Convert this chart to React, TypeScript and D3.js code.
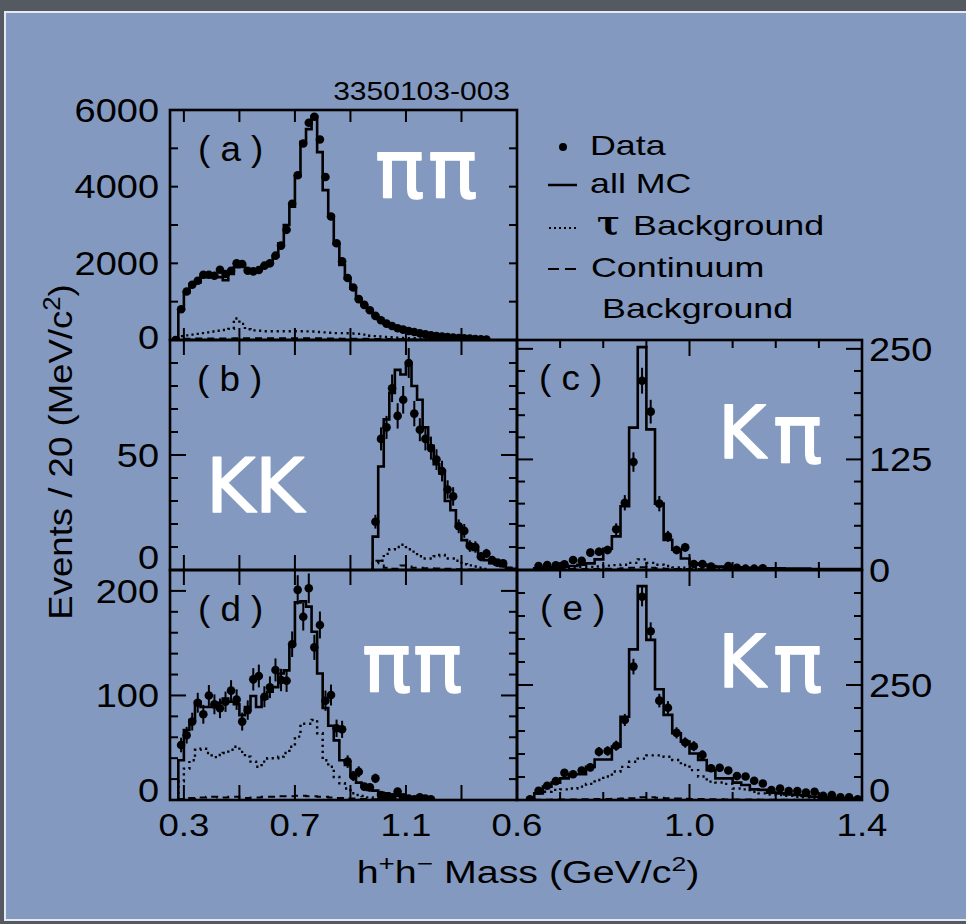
import React from "react";
import * as d3 from "d3";

const W = 966;
const H = 924;
const BIN = 0.02;
const FONT = "'Liberation Sans', Arial, Helvetica, sans-serif";
const HAND = "'DejaVu Sans', sans-serif";

// ---------- Panel (a): pi pi  (bin centres from 0.27 GeV, 20 MeV bins)
const aStart = 0.27;
const aData = [0, 804, 1265, 1441, 1546, 1703, 1703, 1677, 1834, 1720, 1808, 2000, 1983, 1808, 1790, 1826, 1939, 2000, 2200, 2463, 2874, 3555, 4297, 5127, 5667, 5824, 5232, 4252, 3223, 2524, 2052, 1616, 1370, 1066, 917, 778, 629, 516, 427, 367, 306, 270, 236, 210, 175, 149, 122, 105, 87, 79, 61, 52, 44, 35, 26, 17, 10];
const aMC = [0, 800, 1240, 1460, 1500, 1640, 1660, 1640, 1640, 1560, 1720, 1900, 1960, 1840, 1800, 1840, 1920, 2020, 2180, 2520, 3000, 3480, 4270, 5170, 5500, 5840, 4900, 3910, 3240, 2500, 1960, 1600, 1340, 1080, 900, 770, 640, 520, 430, 360, 300, 265, 230, 200, 170, 145, 120, 100, 85, 75, 60, 50, 42, 34, 25, 17, 10];
const aTau = [0, 100, 120, 140, 160, 180, 200, 220, 240, 260, 290, 560, 420, 280, 250, 240, 230, 230, 230, 230, 230, 230, 230, 230, 225, 220, 210, 200, 190, 180, 180, 175, 170, 160, 140, 110, 100, 90, 80, 70, 60, 55, 50, 45, 40, 35, 30, 25, 20, 16, 12, 10, 8, 6, 5, 4, 3];
const aCont = [0, 20, 30, 35, 40, 40, 40, 40, 40, 40, 40, 45, 45, 45, 45, 45, 45, 45, 45, 45, 45, 45, 45, 45, 45, 45, 45, 40, 40, 40, 35, 35, 35, 30, 30, 30, 25, 25, 25, 20, 20, 20, 15, 15, 15, 12, 12, 10, 10, 8, 8, 6, 6, 5, 5, 4, 4];

// ---------- Panel (b): K K  (from 0.99)
const bStart = 0.99;
const bData = [21, 57, 62, 79, 67, 74, 90, 68, 61, 57, 53, 48, 43, 35, 32, 19, 17, 10.4, 10, 5.8, 7.2, 4.3, 3.2, 2.9];
const bErr = [3, 5, 5, 6, 5.5, 6, 6.5, 5.5, 5, 5, 5, 4.5, 4.5, 4, 4, 3, 3, 2.5, 2.5, 2, 2, 1.5, 1.5, 1.5];
const bMC = [14.5, 45, 65.5, 77, 87, 85, 90, 80, 74, 62, 54, 46, 42, 30, 26, 19, 13, 11, 8.7, 5.8, 4.3, 3, 2.3, 1.7, 1, 0.5];
const bTau = [3, 4, 7, 9, 10, 11, 9, 8, 6, 5, 5, 6, 6.5, 5, 5, 4, 2.5, 2, 1.5, 1, 0.5];
const bCont = [4, 4, 1, 0.5, 0.5, 2, 1.5, 1, 1, 0.8, 0.8, 0.6, 0.5, 0.5, 0.4, 0.3, 0.3, 0.2, 0.2, 0.1];

// ---------- Panel (c): K pi  (from 0.65)
const cStart = 0.65;
const cData = [4.5, 5.6, 5.3, 6.4, 11.3, 10.5, 19.6, 20.7, 22.6, 46, 76, 122, 214, 179, 75, 38, 22.6, 25.6, 6.8, 6.8, 3.8, null, 4.5, 2.6, 1.5, 1.5, 1.9];
const cErr = [2, 2.4, 2.3, 2.5, 3.4, 3.2, 4.4, 4.5, 4.8, 6.8, 8.7, 11, 14.6, 13.4, 8.7, 6.2, 4.8, 5, 2.6, 2.6, 2, 0, 2.1, 1.6, 1.2, 1.2, 1.4];
const cMC = [1.9, 3, 3, 3.8, 4.5, 6, 7.5, 12, 24, 38, 72, 161, 252, 159, 75, 34, 23, 13, 7.5, 6, 4.5, 3.8, 3, 3, 2.5, 2.5, 2, 2, 2, 1.5, 1.5, 1.5, 1, 1, 1, 1, 1, 1];
const cTau = [1, 1.5, 2, 2.5, 3, 3.5, 3.5, 4, 5, 5.5, 6, 8, 12, 8, 6, 4.5, 3, 2.5, 2, 1.5, 1.2, 1, 1, 1, 1, 0.8, 0.8, 0.8, 0.6, 0.6, 0.5, 0.5, 0.5, 0.4, 0.4, 0.3, 0.3, 0.3];
const cCont = [0.5, 0.5, 0.8, 0.8, 1, 1, 1, 1.2, 1.5, 1.5, 2, 2.5, 3, 2.5, 2, 1.5, 1.2, 1, 1, 0.8, 0.8, 0.6, 0.6, 0.5, 0.5, 0.4, 0.4, 0.3, 0.3, 0.3, 0.2, 0.2, 0.2, 0.2, 0.1, 0.1, 0.1, 0.1];

// ---------- Panel (d): pi pi  (from 0.29)
const dStart = 0.29;
const dData = [52.6, 62, 75, 93, 82, 100, 91.5, 87.7, 94, 104.6, 96, 75, 86, 115.4, 118.6, 98.8, 107.8, 124.4, 114.8, 114.1, 149, 201, 175.3, 202.5, 146, 167.4, 95, 100.4, 68.6, 67.6, 36.7, 23, 27, 12.8, 12.1, 20.7, 4.8, 3.2, 2.5, 8, 2.5, 1.5, 0.6, 2.5, 1.5, 0.6];
const dErr = [7, 8, 8.5, 9.5, 9, 10, 9.5, 9.4, 9.7, 10, 9.8, 8.6, 9.3, 10.7, 10.9, 10, 10.4, 11, 10.7, 10.7, 12.2, 14, 13.2, 14.2, 12, 12.9, 9.7, 10, 8.3, 8.2, 6, 4.8, 5.2, 3.6, 3.5, 4.5, 2.2, 1.8, 1.6, 2.8, 1.6, 1.2, 0.8, 1.6, 1.2, 0.8];
const dMC = [38, 67, 76.5, 94, 89, 89, 89, 93, 97, 94, 91.6, 81, 89, 99.5, 89, 97, 103.6, 108, 121, 124, 148, 189, 190, 185, 161, 121, 88, 71, 57, 38, 33.5, 24, 16.6, 12.8, 9.6, 9, 7, 6.4, 4.8, 3.8, 3, 2.5, 2, 1.5, 1, 0.5];
const dTau = [18, 30, 38, 48, 49, 45, 41, 43, 45, 48, 51, 46, 41.5, 36.7, 31.8, 36.7, 40, 40, 41.5, 45, 51, 60.6, 73, 73, 76.5, 63.8, 38, 31.8, 22, 16, 11, 6.4, 4.8, 3.8, 2.5, 2, 1.5, 1, 0.8, 0.5, 0.3, 0.2];
const dCont = [1, 2, 2, 2.5, 2.5, 3, 3, 2.5, 2.5, 3, 3, 2, 2, 2.5, 2.5, 3, 3, 3, 3.5, 3.5, 3.5, 4, 4, 3.5, 3.5, 3, 3, 2.5, 2, 2, 1.5, 1.5, 1, 1, 1, 0.8, 0.8, 0.5, 0.5, 0.5, 0.4, 0.3, 0.3, 0.2, 0.2, 0.1];

// ---------- Panel (e): K pi  (data from 0.63, MC from 0.65)
const eStart = 0.63;
const eData = [1.5, 20, 31, 41, 59, 56, 64, 71, 105, 106.5, 118, 174, 290, 442, 367, 216, 200.7, 146, 125, 117, 98, 69, 70, 64, 52, 51, 42, 36, 21.7, 25, 19.6, 19.6, 16, 18, 9.4, 10.9, 5.8, 5.8, 1.5];
const eErr = [1.2, 4.5, 5.6, 6.4, 7.7, 7.5, 8, 8.4, 10.2, 10.3, 10.9, 13.2, 17, 21, 19.2, 14.7, 14.2, 12.1, 11.2, 10.8, 9.9, 8.3, 8.4, 8, 7.2, 7.1, 6.5, 6, 4.7, 5, 4.4, 4.4, 4, 4.2, 3.1, 3.3, 2.4, 2.4, 1.2];
const eMCStart = 0.65;
const eMC = [14.5, 29, 37.7, 47, 56, 56, 72, 88, 88, 116, 181, 327.5, 465, 348, 240.6, 185, 145, 127, 101, 87, 65, 47, 47, 37.7, 32.6, 23, 22, 16, 14.5, 12, 11, 9, 7, 6, 5, 3.6, 3, 1.5];
const eTau = [14.5, 18, 22, 23, 25, 29, 35, 43.5, 51, 62, 72, 83, 90, 97, 97, 94, 87, 76, 65, 51, 40, 38, 35, 25, 23, 18, 14.5, 12, 11, 9, 7, 6, 5, 3.6, 3, 2, 1.5, 1];
const eCont = [0.5, 0.5, 1, 1, 1, 1.5, 1.5, 2, 2, 2.5, 3, 4, 6, 6, 5, 4, 3, 2.5, 2, 2, 1.5, 1.5, 1, 1, 1, 1, 0.8, 0.8, 0.6, 0.6, 0.5, 0.5, 0.4, 0.4, 0.3, 0.3, 0.2, 0.2];

// ---------- ticks and tick labels
const leftMassTicks = [0.3, 0.5, 0.7, 0.9, 1.1, 1.3];
const rightMassMinor = [0.7, 0.8, 0.9, 1.1, 1.2, 1.3];
const rightMassMajor = [1.0];
const leftMassLabels = [0.3, 0.7, 1.1];
const rightMassLabels = [0.6, 1.0, 1.4];
const aYTicks = [1000, 2000, 3000, 4000, 5000];
const bYMinor = [10, 20, 30, 40, 60, 70, 80, 90];
const bYMajor = [50];
const cYMinor = [25, 50, 75, 100, 150, 175, 200, 225];
const cYMajor = [125, 250];
const dYMinor = [20, 40, 60, 80, 120, 140, 160, 180];
const dYMajor = [100, 200];
const eYMinor = [50, 100, 150, 200, 300, 350, 400, 450];
const eYMajor = [250];
const aYLabels = [0, 2000, 4000, 6000];
const bYLabels = [0, 50];
const cYLabels = [0, 125, 250];
const dYLabels = [0, 100, 200];
const eYLabels = [0, 250];

const xLeft = d3.scaleLinear().domain([0.25, 1.5]).range([170, 517]);
const xRight = d3.scaleLinear().domain([0.6, 1.4]).range([517, 862]);

type Num = number | null;
interface PanelDef {
  key: string;
  letter: string;
  x0: number; x1: number; y0: number; y1: number;
  x: d3.ScaleLinear<number, number>;
  yMax: number;
  yMinor: number[]; yMajor: number[];
  xMinor: number[]; xMajor: number[];
  xMinorLen: number; xMajorLen: number;
  yLabels: number[]; labelSide: "left" | "right"; zeroShift: number;
  xLabels: number[] | null;
  data: { start: number; values: Num[]; err: number[] | null };
  mc: { start: number; values: number[] };
  tau: { start: number; values: number[] };
  cont: { start: number; values: number[] };
  letterPos: [number, number];
}

const panels: PanelDef[] = [
  {
    key: "a", letter: "( a )", x0: 170, x1: 517, y0: 110, y1: 340, x: xLeft, yMax: 6000,
    yMinor: aYTicks, yMajor: [], xMinor: leftMassTicks, xMajor: [], xMinorLen: 12, xMajorLen: 12,
    yLabels: aYLabels, labelSide: "left", zeroShift: -3, xLabels: null,
    data: { start: aStart, values: aData, err: null },
    mc: { start: aStart, values: aMC }, tau: { start: aStart, values: aTau }, cont: { start: aStart, values: aCont },
    letterPos: [198, 161],
  },
  {
    key: "b", letter: "( b )", x0: 170, x1: 517, y0: 340, y1: 570, x: xLeft, yMax: 100,
    yMinor: bYMinor, yMajor: bYMajor, xMinor: leftMassTicks, xMajor: [], xMinorLen: 15, xMajorLen: 15,
    yLabels: bYLabels, labelSide: "left", zeroShift: -13, xLabels: null,
    data: { start: bStart, values: bData, err: bErr },
    mc: { start: bStart, values: bMC }, tau: { start: bStart, values: bTau }, cont: { start: bStart, values: bCont },
    letterPos: [197, 391],
  },
  {
    key: "c", letter: "( c )", x0: 517, x1: 862, y0: 340, y1: 570, x: xRight, yMax: 260,
    yMinor: cYMinor, yMajor: cYMajor, xMinor: rightMassMinor, xMajor: rightMassMajor, xMinorLen: 8, xMajorLen: 16,
    yLabels: cYLabels, labelSide: "right", zeroShift: 0, xLabels: null,
    data: { start: cStart, values: cData, err: cErr },
    mc: { start: cStart, values: cMC }, tau: { start: cStart, values: cTau }, cont: { start: cStart, values: cCont },
    letterPos: [539, 390],
  },
  {
    key: "d", letter: "( d )", x0: 170, x1: 517, y0: 570, y1: 800, x: xLeft, yMax: 220,
    yMinor: dYMinor, yMajor: dYMajor, xMinor: leftMassTicks, xMajor: [], xMinorLen: 15, xMajorLen: 15,
    yLabels: dYLabels, labelSide: "left", zeroShift: -10, xLabels: leftMassLabels,
    data: { start: dStart, values: dData, err: dErr },
    mc: { start: dStart, values: dMC }, tau: { start: dStart, values: dTau }, cont: { start: dStart, values: dCont },
    letterPos: [198, 621],
  },
  {
    key: "e", letter: "( e )", x0: 517, x1: 862, y0: 570, y1: 800, x: xRight, yMax: 500,
    yMinor: eYMinor, yMajor: eYMajor, xMinor: rightMassMinor, xMajor: rightMassMajor, xMinorLen: 8, xMajorLen: 16,
    yLabels: eYLabels, labelSide: "right", zeroShift: -10, xLabels: rightMassLabels,
    data: { start: eStart, values: eData, err: eErr },
    mc: { start: eMCStart, values: eMC }, tau: { start: eMCStart, values: eTau }, cont: { start: eMCStart, values: eCont },
    letterPos: [540, 620],
  },
];

function stepPath(x: d3.ScaleLinear<number, number>, y: d3.ScaleLinear<number, number>, start: number, values: number[]) {
  const pts: [number, number][] = [];
  const lo0 = start - BIN / 2;
  pts.push([x(lo0), y(0)]);
  values.forEach((v, i) => pts.push([x(lo0 + i * BIN), y(v)]));
  pts.push([x(lo0 + values.length * BIN), y(values[values.length - 1])]);
  return d3.line().curve(d3.curveStepAfter)(pts) || "";
}

function Txt(props: {
  x: number; y: number; size: number; sx?: number; sy?: number; rot?: number;
  anchor?: string; family?: string; weight?: string | number; fill?: string;
  stroke?: string; strokeWidth?: number; children: React.ReactNode;
}) {
  const { x, y, size, sx = 1, sy = 1, rot = 0, anchor = "start", family = FONT, weight = "normal", fill = "#000" } = props;
  return (
    <text
      transform={`translate(${x},${y})${rot ? ` rotate(${rot})` : ""} scale(${sx},${sy})`}
      textAnchor={anchor}
      fontSize={size}
      fontFamily={family}
      fontWeight={weight}
      fill={fill}
      stroke={props.stroke}
      strokeWidth={props.strokeWidth}
      strokeLinejoin="round"
    >
      {props.children}
    </text>
  );
}

const TICK_SIZE = 33;
const TICK_SX = 1.15;

function Panel({ p }: { p: PanelDef }) {
  const x = p.x;
  const y = d3.scaleLinear().domain([0, p.yMax]).range([p.y1, p.y0]);
  const clipId = `clip-${p.key}`;
  const fmtMass = d3.format(".1f");
  const tickLines: JSX.Element[] = [];
  const addY = (vals: number[], len: number, tag: string) =>
    vals.forEach((v, i) => {
      const yy = y(v);
      tickLines.push(<line key={`yl${tag}${i}`} x1={p.x0} x2={p.x0 + len} y1={yy} y2={yy} />);
      tickLines.push(<line key={`yr${tag}${i}`} x1={p.x1 - len} x2={p.x1} y1={yy} y2={yy} />);
    });
  const addX = (vals: number[], len: number, tag: string) =>
    vals.forEach((v, i) => {
      const xx = x(v);
      tickLines.push(<line key={`xb${tag}${i}`} x1={xx} x2={xx} y1={p.y1} y2={p.y1 - len} />);
      tickLines.push(<line key={`xt${tag}${i}`} x1={xx} x2={xx} y1={p.y0} y2={p.y0 + len} />);
    });
  addY(p.yMinor, 8, "m");
  addY(p.yMajor, 16, "M");
  addX(p.xMinor, p.xMinorLen, "m");
  addX(p.xMajor, p.xMajorLen, "M");

  return (
    <g>
      <defs>
        <clipPath id={clipId}>
          <rect x={p.x0} y={p.y0} width={p.x1 - p.x0} height={p.y1 - p.y0} />
        </clipPath>
      </defs>
      <g clipPath={`url(#${clipId})`}>
        <path d={stepPath(x, y, p.cont.start, p.cont.values)} fill="none" stroke="#000" strokeWidth={2} strokeDasharray="7 5" />
        <path d={stepPath(x, y, p.tau.start, p.tau.values)} fill="none" stroke="#000" strokeWidth={2.4} strokeDasharray="2.2 3.8" />
        <path d={stepPath(x, y, p.mc.start, p.mc.values)} fill="none" stroke="#000" strokeWidth={2.6} />
        {p.data.values.map((v, i) => {
          if (v === null) return null;
          const cx = x(p.data.start + i * BIN);
          const e = p.data.err ? p.data.err[i] : 0;
          return (
            <g key={i}>
              {e > 0 && <line x1={cx} x2={cx} y1={y(Math.max(0, v - e))} y2={y(v + e)} stroke="#000" strokeWidth={2} />}
              <circle cx={cx} cy={y(v)} r={4.3} fill="#000" />
            </g>
          );
        })}
      </g>
      <g stroke="#000" strokeWidth={2}>{tickLines}</g>
      <rect x={p.x0} y={p.y0} width={p.x1 - p.x0} height={p.y1 - p.y0} fill="none" stroke="#000" strokeWidth={2.6} />
      {p.yLabels.map((v) => {
        const yc = y(v) + (v === 0 ? p.zeroShift : 0);
        const base = yc + 0.358 * TICK_SIZE;
        return p.labelSide === "left" ? (
          <Txt key={`lab${v}`} x={159} y={base} size={TICK_SIZE} sx={TICK_SX} anchor="end">{String(v)}</Txt>
        ) : (
          <Txt key={`lab${v}`} x={869} y={base} size={TICK_SIZE} sx={TICK_SX} anchor="start">{String(v)}</Txt>
        );
      })}
      {p.xLabels &&
        p.xLabels.map((v) => (
          <Txt key={`xl${v}`} x={x(v)} y={836} size={31} sx={1.18} anchor="middle">{fmtMass(v)}</Txt>
        ))}
      <Txt x={p.letterPos[0]} y={p.letterPos[1]} size={35} sx={1.05}>{p.letter}</Txt>
    </g>
  );
}

const whiteLabels: { text: string; x: number; y: number; size: number }[] = [
  { text: "π", x: 375, y: 198, size: 82 },
  { text: "π", x: 428, y: 198, size: 82 },
  { text: "K", x: 206, y: 512, size: 75 },
  { text: "K", x: 255, y: 512, size: 75 },
  { text: "K", x: 718, y: 458, size: 73 },
  { text: "π", x: 773, y: 463, size: 82 },
  { text: "π", x: 362, y: 692, size: 82 },
  { text: "π", x: 413, y: 692, size: 82 },
  { text: "K", x: 718, y: 687, size: 73 },
  { text: "π", x: 773, y: 692, size: 82 },
];

export default function App() {
  return (
    <svg width={W} height={H} viewBox={`0 0 ${W} ${H}`} style={{ position: "absolute", left: 0, top: 0 }} xmlns="http://www.w3.org/2000/svg">
      <rect x={0} y={0} width={W} height={H} fill="#555962" />
      <rect x={5} y={12} width={W - 4} height={908} fill="#8399c0" stroke="#e6eaf0" strokeWidth={2} />

      <Txt x={510} y={100} size={25} sx={1.2} anchor="end">3350103-003</Txt>

      {panels.map((p) => (
        <Panel key={p.key} p={p} />
      ))}

      {whiteLabels.map((l, i) => (
        <Txt key={i} x={l.x} y={l.y} size={l.size} family={HAND} fill="#ffffff" stroke="#ffffff" strokeWidth={1.5}>
          {l.text}
        </Txt>
      ))}

      {/* legend */}
      <circle cx={563} cy={147} r={4} fill="#000" />
      <Txt x={590} y={155} size={28} sx={1.28}>Data</Txt>
      <line x1={548} x2={577} y1={185} y2={185} stroke="#000" strokeWidth={2.5} />
      <Txt x={590} y={193} size={28} sx={1.28}>all MC</Txt>
      <line x1={549} x2={577} y1={228} y2={228} stroke="#000" strokeWidth={2} strokeDasharray="2 3" />
      <Txt x={597} y={235} size={34} family="'DejaVu Serif', serif" weight="bold">τ</Txt>
      <Txt x={633} y={235} size={28} sx={1.28}>Background</Txt>
      <line x1={548} x2={577} y1={269} y2={269} stroke="#000" strokeWidth={2} strokeDasharray="11 6" />
      <Txt x={591} y={277} size={28} sx={1.28}>Continuum</Txt>
      <Txt x={602} y={318} size={28} sx={1.28}>Background</Txt>

      {/* axis titles */}
      <Txt x={528} y={883} size={31} sx={1.27} anchor="middle">
        h<tspan dy={-12} fontSize={22}>+</tspan>
        <tspan dy={12}>h</tspan>
        <tspan dy={-12} fontSize={22}>−</tspan>
        <tspan dy={12}> Mass (GeV/c</tspan>
        <tspan dy={-12} fontSize={21}>2</tspan>
        <tspan dy={12}>)</tspan>
      </Txt>
      <Txt x={72} y={452} size={30} rot={-90} sx={1.22} sy={1.13} anchor="middle">
        Events / 20 (MeV/c<tspan dy={-11} fontSize={21}>2</tspan>
        <tspan dy={11}>)</tspan>
      </Txt>
    </svg>
  );
}
